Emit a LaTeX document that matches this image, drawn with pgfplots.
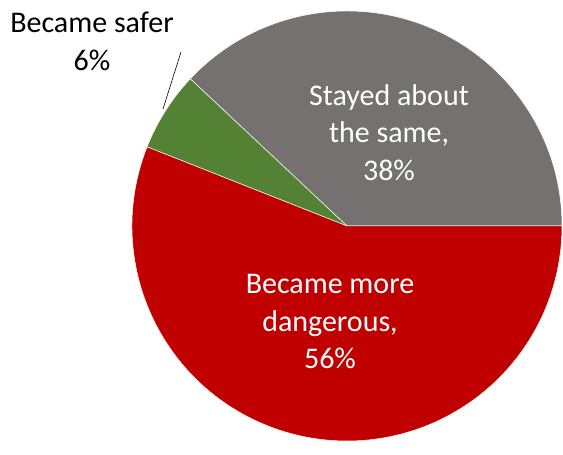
\documentclass[border=0pt]{standalone}
\usepackage{pgfplots}
\usepackage{pgfplotstable}
\pgfplotsset{compat=1.18}
\usepackage{fontspec}
\setmainfont{Carlito}
\definecolor{pgray}{HTML}{767171}
\definecolor{pgreen}{HTML}{548235}
\definecolor{pred}{HTML}{C00000}
\pgfplotstableread{
label value
same 38
safer 6
dangerous 56
}\piedata
\tikzset{pielbl/.style={font=\fontsize{30}{37.5}\selectfont, align=center, inner sep=0pt}}
\begin{document}
\begin{tikzpicture}
\pgfplotstablegetelem{0}{value}\of\piedata \let\vA\pgfplotsretval
\pgfplotstablegetelem{1}{value}\of\piedata \let\vB\pgfplotsretval
\pgfplotstablegetelem{2}{value}\of\piedata \let\vC\pgfplotsretval
\pgfmathsetmacro\aA{3.6*\vA}
\pgfmathsetmacro\aB{\aA+3.6*\vB}
\pgfmathsetmacro\aC{\aB+3.6*\vC}
\begin{axis}[
  scale only axis, width=563pt, height=441pt,
  xmin=0, xmax=563, ymin=0, ymax=441,
  hide axis, clip=false,
]
\path (axis cs:0,0) rectangle (axis cs:563,441);
\filldraw[fill=pgray, draw=white, line width=0.5pt] (axis cs:347,215) -- (axis cs:562,215) arc[start angle=0, end angle=\aA, radius=215] -- cycle;
\filldraw[fill=pgreen, draw=white, line width=0.5pt] (axis cs:347,215) -- ++(\aA:215) arc[start angle=\aA, end angle=\aB, radius=215] -- cycle;
\filldraw[fill=pred, draw=white, line width=0.5pt] (axis cs:347,215) -- ++(\aB:215) arc[start angle=\aB, end angle=\aC, radius=215] -- cycle;
\draw[black, line width=0.6pt] (axis cs:181,389) -- (axis cs:163,332);
\node[pielbl, text=white] at (axis cs:389,308.5) {Stayed about\\the same,\\38\%};
\node[pielbl, text=white] at (axis cs:330,119) {Became more\\dangerous,\\56\%};
\node[pielbl, text=black] at (axis cs:92,399.5) {Became safer\\6\%};
\end{axis}
\end{tikzpicture}
\end{document}
